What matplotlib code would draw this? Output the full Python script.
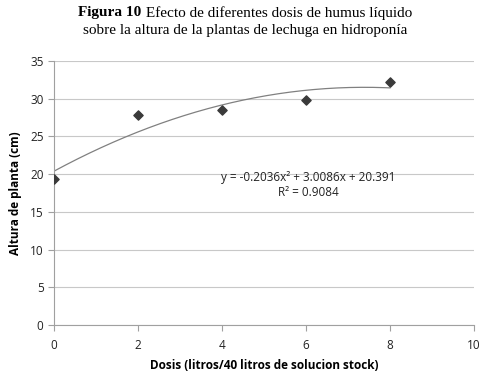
import numpy as np
import matplotlib
matplotlib.use("Agg")
import matplotlib.pyplot as plt

dosis = [0, 2, 4, 6, 8]
altura = [19.4, 27.8, 28.5, 29.8, 32.2]
x_ticks = [0, 2, 4, 6, 8, 10]
y_ticks = [0, 5, 10, 15, 20, 25, 30, 35]
eq_text = "y = -0.2036x² + 3.0086x + 20.391\nR² = 0.9084"

fig = plt.figure(figsize=(5, 3.74), dpi=100)
ax = fig.add_axes([0.108, 0.131, 0.840, 0.706])

coef = np.polyfit(dosis, altura, 2)
xs = np.linspace(0, 8, 200)
ax.plot(xs, np.polyval(coef, xs), color="#808080", lw=0.9, zorder=2)
ax.scatter(dosis, altura, marker="D", s=22, color="#3a3a3a", zorder=3)

ax.set_xlim(0, 10)
ax.set_ylim(0, 35)
ax.set_xticks(x_ticks)
ax.set_yticks(y_ticks)
ax.grid(axis="y", color="#c8c8c8", lw=0.8)
ax.set_axisbelow(True)
for s in ["top", "right"]:
    ax.spines[s].set_visible(False)
for s in ["left", "bottom"]:
    ax.spines[s].set_color("#a0a0a0")
    ax.spines[s].set_linewidth(0.8)
ax.tick_params(colors="#a0a0a0", labelcolor="#222222", labelsize=8.5, length=4, width=0.8)
for lab in ax.get_xticklabels() + ax.get_yticklabels():
    lab.set_fontfamily("Open Sans")
ax.tick_params(axis="x", pad=6)
ax.set_xlabel("Dosis (litros/40 litros de solucion stock)", fontsize=8.5,
              fontweight="bold", family="Open Sans", labelpad=5)
ax.set_ylabel("Altura de planta (cm)", fontsize=8.5, fontweight="bold",
              family="Open Sans", labelpad=6)

ax.text(6.05, 18.6, eq_text, ha="center", va="center", fontsize=8.5,
        family="Open Sans", color="#222222", linespacing=1.2)

# Title
fig.canvas.draw()
r = fig.canvas.get_renderer()
cx = 0.49
t1 = fig.text(0, 0.966, "Figura 10", family="Liberation Serif", fontweight="bold",
              fontsize=11, va="center", ha="left")
t2 = fig.text(0, 0.966, " Efecto de diferentes dosis de humus líquido",
              family="Liberation Serif", fontsize=11, va="center", ha="left")
w1 = t1.get_window_extent(r).width / fig.bbox.width
w2 = t2.get_window_extent(r).width / fig.bbox.width
start = cx - (w1 + w2) / 2
t1.set_x(start)
t2.set_x(start + w1)
fig.text(cx, 0.919, "sobre la altura de la plantas de lechuga en hidroponía",
         family="Liberation Serif", fontsize=11, va="center", ha="center")

fig.savefig("out.png", dpi=100)
